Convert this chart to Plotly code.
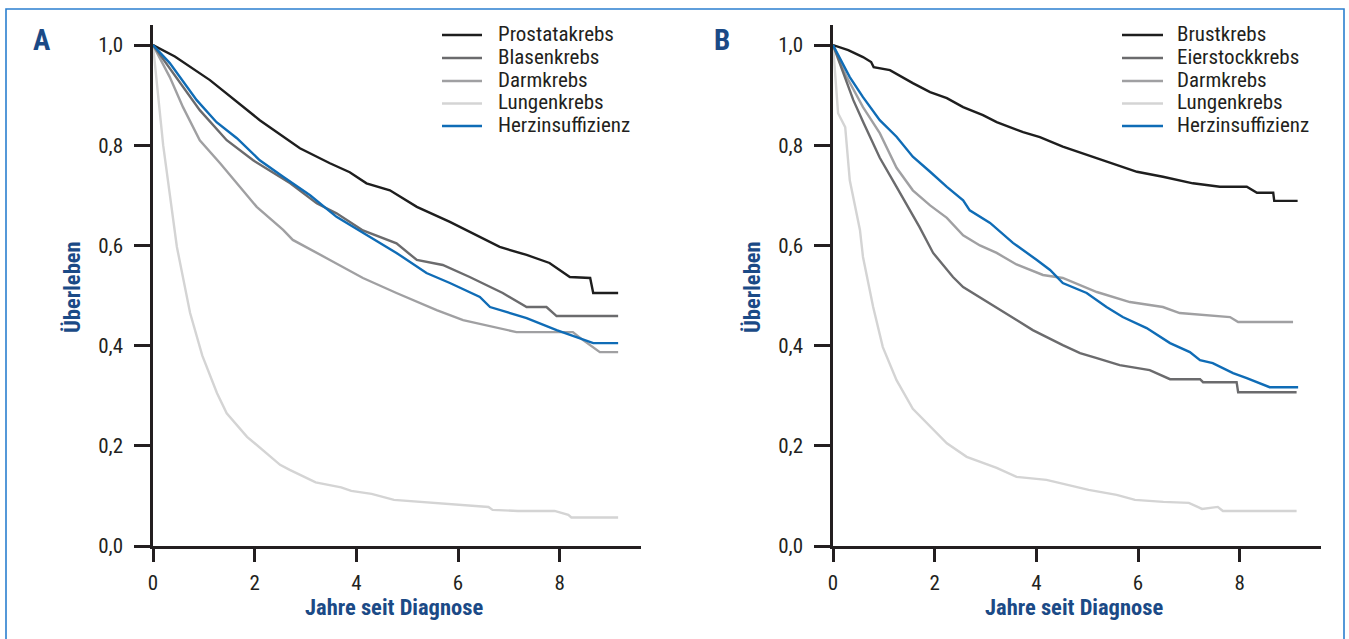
import plotly.graph_objects as go

# ---------------- data ----------------
A_names = ["Prostatakrebs", "Blasenkrebs", "Darmkrebs", "Lungenkrebs", "Herzinsuffizienz"]
B_names = ["Brustkrebs", "Eierstockkrebs", "Darmkrebs", "Lungenkrebs", "Herzinsuffizienz"]

A_prostata_t = [0, 0.43, 1.12, 2.1, 2.89, 3.48, 3.87, 4.2, 4.66, 5.19, 5.84, 6.23, 6.82, 7.35, 7.8, 8.2, 8.6, 8.66, 9.15]
A_prostata_s = [1.0, 0.977, 0.930, 0.850, 0.794, 0.764, 0.746, 0.724, 0.71, 0.677, 0.647, 0.627, 0.597, 0.581, 0.565, 0.537, 0.535, 0.505, 0.505]

A_blasen_t = [0, 0.59, 0.92, 1.45, 1.97, 2.7, 3.22, 3.61, 4.13, 4.79, 5.19, 5.7, 6.23, 6.88, 7.35, 7.74, 7.94, 9.15]
A_blasen_s = [1.0, 0.916, 0.87, 0.81, 0.77, 0.724, 0.684, 0.664, 0.63, 0.604, 0.571, 0.561, 0.537, 0.505, 0.477, 0.477, 0.459, 0.459]

A_darm_t = [0, 0.33, 0.59, 0.92, 1.32, 1.71, 2.04, 2.56, 2.75, 3.48, 4.13, 4.79, 5.58, 6.1, 6.76, 7.15, 8.26, 8.46, 8.79, 9.15]
A_darm_s = [1.0, 0.936, 0.876, 0.81, 0.764, 0.717, 0.677, 0.631, 0.611, 0.571, 0.535, 0.505, 0.471, 0.451, 0.435, 0.427, 0.427, 0.411, 0.387, 0.387]

A_lungen_t = [0, 0.2, 0.47, 0.73, 0.97, 1.26, 1.45, 1.85, 2.5, 2.69, 3.2, 3.7, 3.9, 4.3, 4.74, 5.26, 5.67, 6.19, 6.6, 6.68, 7.18, 7.9, 8.17, 8.23, 9.15]
A_lungen_s = [1.0, 0.80, 0.597, 0.465, 0.38, 0.305, 0.265, 0.218, 0.162, 0.152, 0.127, 0.117, 0.11, 0.104, 0.092, 0.088, 0.084, 0.08, 0.078, 0.072, 0.07, 0.07, 0.062, 0.057, 0.057]

A_herz_t = [0, 0.33, 0.86, 1.25, 1.65, 2.1, 2.56, 3.09, 3.61, 4.13, 4.79, 5.38, 5.84, 6.43, 6.63, 7.35, 7.94, 8.33, 8.66, 9.15]
A_herz_s = [1.0, 0.964, 0.89, 0.846, 0.814, 0.77, 0.737, 0.70, 0.657, 0.625, 0.585, 0.545, 0.525, 0.497, 0.477, 0.455, 0.431, 0.417, 0.405, 0.405]

B_brust_t = [0, 0.3, 0.59, 0.75, 0.8, 1.12, 1.57, 1.91, 2.24, 2.56, 2.95, 3.22, 3.74, 4.07, 4.52, 5.19, 5.98, 6.49, 7.08, 7.61, 8.14, 8.34, 8.66, 8.68, 9.14]
B_brust_s = [1.0, 0.99, 0.976, 0.966, 0.956, 0.95, 0.924, 0.906, 0.894, 0.876, 0.86, 0.846, 0.826, 0.816, 0.797, 0.774, 0.747, 0.737, 0.724, 0.717, 0.717, 0.705, 0.705, 0.689, 0.689]

B_eierstock_t = [0, 0.2, 0.4, 0.6, 0.92, 1.25, 1.7, 1.97, 2.36, 2.56, 2.75, 3.28, 3.93, 4.52, 4.86, 5.19, 5.64, 6.23, 6.63, 7.22, 7.28, 7.94, 7.97, 9.12]
B_eierstock_s = [1.0, 0.944, 0.89, 0.845, 0.775, 0.717, 0.637, 0.585, 0.537, 0.517, 0.505, 0.471, 0.431, 0.401, 0.385, 0.375, 0.361, 0.351, 0.333, 0.333, 0.327, 0.327, 0.307, 0.307]

B_darm_t = [0, 0.27, 0.59, 0.92, 1.25, 1.57, 1.91, 2.24, 2.56, 2.89, 3.22, 3.61, 4.13, 4.52, 5.19, 5.84, 6.49, 6.82, 7.81, 7.97, 9.05]
B_darm_s = [1.0, 0.936, 0.876, 0.824, 0.755, 0.71, 0.68, 0.655, 0.62, 0.60, 0.585, 0.562, 0.541, 0.535, 0.507, 0.487, 0.477, 0.465, 0.457, 0.447, 0.447]

B_lungen_t = [0, 0.1, 0.24, 0.33, 0.53, 0.59, 0.79, 0.98, 1.25, 1.57, 2.24, 2.63, 3.22, 3.61, 4.2, 4.86, 5.03, 5.58, 5.94, 6.5, 7.0, 7.26, 7.57, 7.67, 9.12]
B_lungen_s = [1.0, 0.864, 0.836, 0.73, 0.631, 0.577, 0.477, 0.397, 0.331, 0.274, 0.205, 0.178, 0.156, 0.138, 0.132, 0.116, 0.112, 0.102, 0.092, 0.088, 0.086, 0.074, 0.078, 0.07, 0.07]

B_herz_t = [0, 0.33, 0.59, 0.92, 1.25, 1.57, 1.91, 2.24, 2.56, 2.69, 3.09, 3.54, 4.01, 4.27, 4.52, 4.99, 5.38, 5.7, 6.17, 6.63, 7.02, 7.22, 7.47, 7.87, 8.14, 8.4, 8.59, 9.15]
B_herz_s = [1.0, 0.936, 0.896, 0.85, 0.817, 0.777, 0.747, 0.717, 0.69, 0.67, 0.645, 0.605, 0.571, 0.551, 0.525, 0.505, 0.477, 0.457, 0.435, 0.405, 0.387, 0.371, 0.365, 0.345, 0.335, 0.325, 0.317, 0.317]

x_ticks = [0, 2, 4, 6, 8]
x_ticktext = ["0", "2", "4", "6", "8"]
y_ticks = [0.0, 0.2, 0.4, 0.6, 0.8, 1.0]
y_ticktext = ["0,0", "0,2", "0,4", "0,6", "0,8", "1,0"]

# ---------------- styling ----------------
W, H = 1349, 639
colors = ["#1e1e1e", "#6b6b6d", "#a0a0a2", "#d4d4d4", "#0f6cb6"]
FONT = "Liberation Sans Narrow, Arial Narrow, Roboto Condensed, Liberation Sans, Arial, sans-serif"
TITLE_BLUE = "#1b4a86"
AX = "#231f20"
LW = 2.4


def px(x):
    return x / W


def py(y):
    return 1 - y / H


fig = go.Figure()

A_series = [(A_prostata_t, A_prostata_s), (A_blasen_t, A_blasen_s), (A_darm_t, A_darm_s),
            (A_lungen_t, A_lungen_s), (A_herz_t, A_herz_s)]
B_series = [(B_brust_t, B_brust_s), (B_eierstock_t, B_eierstock_s), (B_darm_t, B_darm_s),
            (B_lungen_t, B_lungen_s), (B_herz_t, B_herz_s)]

# light series first so darker ones sit on top
order = [3, 2, 1, 0, 4]
for i in order:
    t, s = A_series[i]
    fig.add_trace(go.Scatter(x=t, y=s, mode="lines", name=A_names[i],
                             line=dict(color=colors[i], width=LW),
                             xaxis="x", yaxis="y", showlegend=False, hoverinfo="skip"))
for i in order:
    t, s = B_series[i]
    fig.add_trace(go.Scatter(x=t, y=s, mode="lines", name=B_names[i],
                             line=dict(color=colors[i], width=LW),
                             xaxis="x2", yaxis="y2", showlegend=False, hoverinfo="skip"))

xa = dict(range=[0, 9.6], showline=True, linecolor=AX, linewidth=2.5,
          ticks="outside", ticklen=13, tickwidth=2.5, tickcolor=AX,
          tickvals=x_ticks, ticktext=x_ticktext, showgrid=False, zeroline=False,
          tickfont=dict(family=FONT, size=21, color=AX), ticklabelstandoff=3,
          fixedrange=True, automargin=False)
ya = dict(range=[0, 1.04], showline=True, linecolor=AX, linewidth=2.5,
          ticks="outside", ticklen=16, tickwidth=2.5, tickcolor=AX,
          tickvals=y_ticks, ticktext=y_ticktext, showgrid=False, zeroline=False,
          tickfont=dict(family=FONT, size=21, color=AX), ticklabelstandoff=7,
          fixedrange=True, automargin=False)

y_dom = [py(546), py(25)]
fig.update_layout(
    width=W, height=H, autosize=False,
    margin=dict(l=0, r=0, t=0, b=0, pad=0, autoexpand=False),
    paper_bgcolor="white", plot_bgcolor="white",
    font=dict(family=FONT, color=AX),
    xaxis=dict(xa, domain=[px(153), px(641)], anchor="y"),
    yaxis=dict(ya, domain=y_dom, anchor="x"),
    xaxis2=dict(xa, domain=[px(833), px(1321)], anchor="y2"),
    yaxis2=dict(ya, domain=y_dom, anchor="x2"),
    showlegend=False,
)

ann = []
shapes = []
legend_rows = [35, 58, 81, 103.5, 126]
for dx, letter, names, lx0, lx1, tx in [(0, "A", A_names, 442, 482, 496),
                                         (680, "B", B_names, 1122, 1163, 1175)]:
    ann.append(dict(text="<b>%s</b>" % letter, x=px(42 + dx), y=py(40), xref="paper", yref="paper",
                    showarrow=False, xanchor="center", yanchor="middle",
                    font=dict(family=FONT, size=29, color=TITLE_BLUE)))
    ann.append(dict(text="<b>Überleben</b>", x=px(72 + dx), y=py(287), xref="paper", yref="paper",
                    showarrow=False, textangle=-90, xanchor="center", yanchor="middle",
                    font=dict(family=FONT, size=22.5, color=TITLE_BLUE)))
    ann.append(dict(text="<b>Jahre seit Diagnose</b>", x=px(394 + dx), y=py(607), xref="paper", yref="paper",
                    showarrow=False, xanchor="center", yanchor="middle",
                    font=dict(family=FONT, size=22.5, color=TITLE_BLUE)))
    # legend: swatch line + label for each series
    for k, name in enumerate(names):
        yr = legend_rows[k]
        shapes.append(dict(type="line", xref="paper", yref="paper",
                           x0=px(lx0), x1=px(lx1), y0=py(yr), y1=py(yr),
                           line=dict(color=colors[k], width=LW)))
        ann.append(dict(text=name, x=px(tx), y=py(yr - 1), xref="paper", yref="paper",
                        showarrow=False, xanchor="left", yanchor="middle",
                        font=dict(family=FONT, size=21, color=AX)))

shapes.append(dict(type="rect", xref="paper", yref="paper",
                   x0=px(6), x1=px(1344), y0=-0.1, y1=py(9),
                   line=dict(color="#2b7fcf", width=1.6), fillcolor="rgba(0,0,0,0)", layer="below"))
fig.update_layout(annotations=ann, shapes=shapes)

fig.write_html("out.html", config={"displayModeBar": False},
               post_script="document.body.style.margin='0';document.body.style.overflow='hidden';"
                           "document.documentElement.style.overflow='hidden';")
